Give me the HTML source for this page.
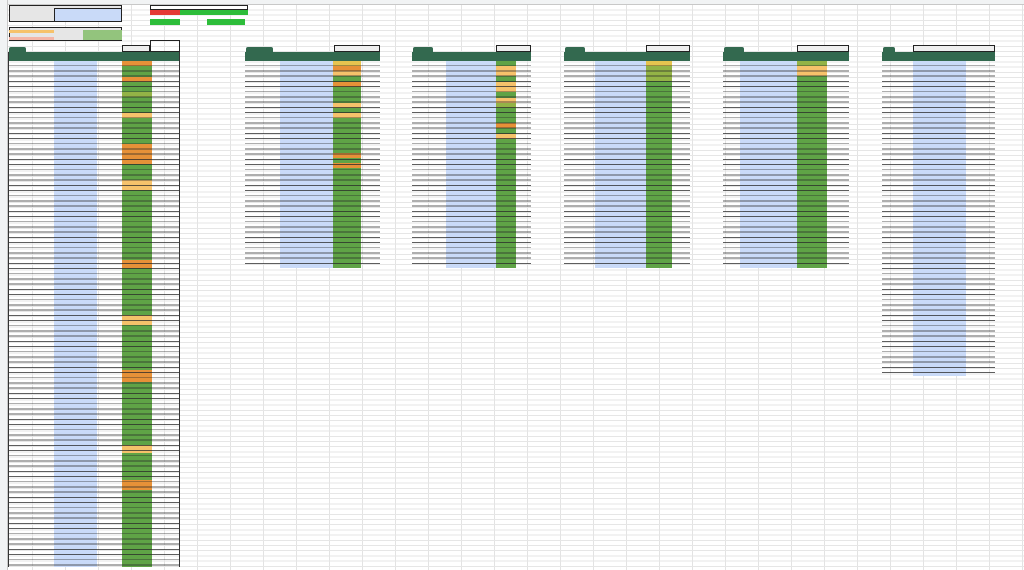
<!DOCTYPE html>
<html><head><style>
*{margin:0;padding:0;box-sizing:border-box}
body{width:1024px;height:570px;overflow:hidden;background:#fff;position:relative;font-family:"Liberation Sans",sans-serif}
.grid{position:absolute;left:0;top:0;width:1024px;height:570px;
background:
repeating-linear-gradient(to bottom,transparent 0,transparent 4.2px,#e6e6e6 4.2px,#e6e6e6 5.2px),
repeating-linear-gradient(to right,transparent 0,transparent 32px,#e3e3e3 32px,#e3e3e3 33px);}
.colhdr{position:absolute;left:0;top:0;width:1024px;height:5px;background:#f1f3f4;border-bottom:1px solid #c8c8c8}
.rowhdr{position:absolute;left:0;top:0;width:8px;height:570px;background:#f1f3f4;border-right:1px solid #c8c8c8}
.a{position:absolute}
.lines{position:absolute;background:repeating-linear-gradient(to bottom,transparent 0,transparent 4.3px,rgba(40,40,40,.75) 4.3px,rgba(40,40,40,.75) 5.2px)}
.hdr{position:absolute;background:#33694f}
.tab{position:absolute;background:#33694f;border-radius:2px 2px 0 0}
.box{position:absolute;border:1px solid #222}
</style></head><body>
<div class="grid"></div><div class="colhdr"></div><div class="rowhdr"></div>

<!-- top-left blocks -->
<div class="box" style="left:9px;top:5px;width:113px;height:17px;background:#e6e6e6"></div>
<div class="box" style="left:54px;top:8px;width:68px;height:14px;background:#c9daf8"></div>
<div class="box" style="left:9px;top:27px;width:113px;height:14px;background:#e6e6e6"></div>
<div class="a" style="left:9px;top:30px;width:45px;height:3px;background:#f6c26b"></div>
<div class="a" style="left:9px;top:37px;width:45px;height:3px;background:#f4b6a8"></div>
<div class="a" style="left:83px;top:30px;width:39px;height:10px;background:#93c47d"></div>
<div class="box" style="left:150px;top:5px;width:98px;height:5px;background:#fff"></div>
<div class="a" style="left:150px;top:10px;width:30px;height:5px;background:#e53935"></div>
<div class="a" style="left:180px;top:10px;width:68px;height:5px;background:#2dbd3a"></div>
<div class="a" style="left:150px;top:19px;width:30px;height:6px;background:#2dbd3a"></div>
<div class="a" style="left:207px;top:19px;width:38px;height:6px;background:#2dbd3a"></div>
<div class="box" style="left:150px;top:40px;width:30px;height:12px"></div>
<div class="box" style="left:122px;top:45px;width:28px;height:7px;background:#eee"></div>

<!-- Table 1 -->
<div class="tab" style="left:9px;top:47px;width:17px;height:5px"></div>
<div class="hdr" style="left:8px;top:52px;width:172px;height:9px"></div>
<div class="a" style="left:54px;top:61px;width:43px;height:506px;background:#c9daf8"></div>
<div class="a" style="left:122px;top:61px;width:30px;height:506px;background:#5fa346"></div>
<div class="a" style="left:122px;top:61px;width:30px;height:5px;background:#e69138"></div>
<div class="a" style="left:122px;top:77px;width:30px;height:5px;background:#e69138"></div>
<div class="a" style="left:122px;top:92px;width:30px;height:5px;background:#93b346"></div>
<div class="a" style="left:122px;top:113px;width:30px;height:5px;background:#f6c26b"></div>
<div class="a" style="left:122px;top:144px;width:30px;height:20px;background:#e69138"></div>
<div class="a" style="left:122px;top:180px;width:30px;height:10px;background:#f6c26b"></div>
<div class="a" style="left:122px;top:260px;width:30px;height:8px;background:#e69138"></div>
<div class="a" style="left:122px;top:315px;width:30px;height:10px;background:#f6c26b"></div>
<div class="a" style="left:122px;top:370px;width:30px;height:12px;background:#e69138"></div>
<div class="a" style="left:122px;top:445px;width:30px;height:8px;background:#f6c26b"></div>
<div class="a" style="left:122px;top:480px;width:30px;height:10px;background:#e69138"></div>
<div class="lines" style="left:8px;top:61px;width:172px;height:506px"></div>
<div class="a" style="left:8px;top:52px;width:1px;height:515px;background:#333"></div>
<div class="a" style="left:179px;top:52px;width:1px;height:515px;background:#333"></div>

<!-- Table 2 -->
<div class="box" style="left:334px;top:45px;width:46px;height:7px;background:#eee"></div>
<div class="tab" style="left:246px;top:47px;width:27px;height:5px"></div>
<div class="hdr" style="left:245px;top:52px;width:135px;height:9px"></div>
<div class="a" style="left:280px;top:61px;width:53px;height:207px;background:#c9daf8"></div>
<div class="a" style="left:333px;top:61px;width:28px;height:207px;background:#5fa346"></div>
<div class="a" style="left:333px;top:61px;width:28px;height:5px;background:#e6c44f"></div>
<div class="a" style="left:333px;top:66px;width:28px;height:5px;background:#e69138"></div>
<div class="a" style="left:333px;top:71px;width:28px;height:5px;background:#f6c26b"></div>
<div class="a" style="left:333px;top:82px;width:28px;height:5px;background:#e69138"></div>
<div class="a" style="left:333px;top:103px;width:28px;height:5px;background:#f6c26b"></div>
<div class="a" style="left:333px;top:113px;width:28px;height:5px;background:#f6c26b"></div>
<div class="a" style="left:333px;top:153px;width:28px;height:5px;background:#e69138"></div>
<div class="a" style="left:333px;top:163px;width:28px;height:5px;background:#e69138"></div>
<div class="lines" style="left:245px;top:61px;width:135px;height:207px"></div>

<!-- Table 3 -->
<div class="box" style="left:496px;top:45px;width:35px;height:7px;background:#eee"></div>
<div class="tab" style="left:413px;top:47px;width:20px;height:5px"></div>
<div class="hdr" style="left:412px;top:52px;width:119px;height:9px"></div>
<div class="a" style="left:446px;top:61px;width:50px;height:207px;background:#c9daf8"></div>
<div class="a" style="left:496px;top:61px;width:20px;height:207px;background:#5fa346"></div>
<div class="a" style="left:496px;top:66px;width:20px;height:10px;background:#f6c26b"></div>
<div class="a" style="left:496px;top:82px;width:20px;height:10px;background:#f6c26b"></div>
<div class="a" style="left:496px;top:98px;width:20px;height:5px;background:#f6c26b"></div>
<div class="a" style="left:496px;top:103px;width:20px;height:5px;background:#93b346"></div>
<div class="a" style="left:496px;top:123px;width:20px;height:5px;background:#e69138"></div>
<div class="a" style="left:496px;top:134px;width:20px;height:5px;background:#f6c26b"></div>
<div class="lines" style="left:412px;top:61px;width:119px;height:207px"></div>

<!-- Table 4 -->
<div class="box" style="left:646px;top:45px;width:44px;height:7px;background:#eee"></div>
<div class="tab" style="left:565px;top:47px;width:20px;height:5px"></div>
<div class="hdr" style="left:564px;top:52px;width:126px;height:9px"></div>
<div class="a" style="left:595px;top:61px;width:51px;height:207px;background:#c9daf8"></div>
<div class="a" style="left:646px;top:61px;width:26px;height:207px;background:#5fa346"></div>
<div class="a" style="left:646px;top:61px;width:26px;height:5px;background:#e6c44f"></div>
<div class="a" style="left:646px;top:66px;width:26px;height:15px;background:#93b346"></div>
<div class="lines" style="left:564px;top:61px;width:126px;height:207px"></div>

<!-- Table 5 -->
<div class="box" style="left:797px;top:45px;width:52px;height:7px;background:#eee"></div>
<div class="tab" style="left:724px;top:47px;width:20px;height:5px"></div>
<div class="hdr" style="left:723px;top:52px;width:126px;height:9px"></div>
<div class="a" style="left:740px;top:61px;width:57px;height:207px;background:#c9daf8"></div>
<div class="a" style="left:797px;top:61px;width:30px;height:207px;background:#5fa346"></div>
<div class="a" style="left:797px;top:61px;width:30px;height:5px;background:#93b346"></div>
<div class="a" style="left:797px;top:66px;width:30px;height:10px;background:#f6c26b"></div>
<div class="lines" style="left:723px;top:61px;width:126px;height:207px"></div>

<!-- Table 6 -->
<div class="box" style="left:913px;top:45px;width:82px;height:7px;background:#eee"></div>
<div class="tab" style="left:883px;top:47px;width:12px;height:5px"></div>
<div class="hdr" style="left:882px;top:52px;width:113px;height:9px"></div>
<div class="a" style="left:913px;top:61px;width:53px;height:315px;background:#c9daf8"></div>
<div class="lines" style="left:882px;top:61px;width:113px;height:315px"></div>
</body></html>
